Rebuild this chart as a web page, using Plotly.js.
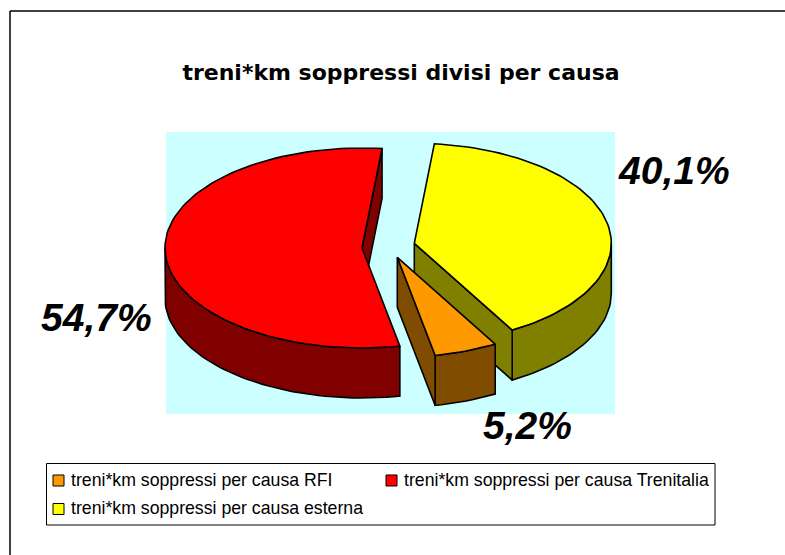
<!DOCTYPE html>
<html>
<head>
<meta charset="utf-8">
<script src="https://cdn.plot.ly/plotly-3.0.1.min.js"></script>
<style>html,body{margin:0;padding:0;background:#fff}#chart{width:785px;height:555px}</style>
</head>
<body>
<div id="chart"></div>
<script>
const chartTitle = "treni*km soppressi divisi per causa";
const categories = ["treni*km soppressi per causa RFI", "treni*km soppressi per causa Trenitalia", "treni*km soppressi per causa esterna"];
const shares = [5.2, 54.7, 40.1];
const shareLabels = ["5,2%", "54,7%", "40,1%"];
const topColors = ["#FF9900", "#FF0000", "#FFFF00"];
const wallColors = ["#804D00", "#800000", "#808000"];

// pie geometry (screen-like axis units)
const firstAngle = 150.2, rx = 197, ry = 100, depth = 50;
const centers = [[397.3, 257.3], [362, 248], [414.3, 243.3]];
const labelPos = [[527, 425], [96, 317], [674, 170]];
const drawOrder = [1, 2, 0];
const LW = 1.6;

let a = firstAngle;
const spans = shares.map(s => { let st = a; a += s * 3.6; let en = a; if (st >= 360) { st -= 360; en -= 360; } return [st, en]; });

function pt(c, deg, dz) {
  const t = deg * Math.PI / 180;
  return [c[0] + rx * Math.sin(t), c[1] - ry * Math.cos(t) + (dz || 0)];
}
function arc(c, a0, a1, dz) {
  const n = Math.max(2, Math.ceil(Math.abs(a1 - a0) / 2)), out = [];
  for (let i = 0; i <= n; i++) out.push(pt(c, a0 + (a1 - a0) * i / n, dz));
  return out;
}
function poly(points, fill, name) {
  const p = points.concat([points[0]]);
  return { type: "scatter", mode: "lines", x: p.map(q => q[0]), y: p.map(q => q[1]), fill: "toself",
    fillcolor: fill, line: { color: "#000", width: LW }, showlegend: false, name: name, hoverinfo: "name" };
}
const traces = [];
drawOrder.forEach(i => {
  const c = centers[i], s = spans[i], name = categories[i];
  // outer wall: only the part that faces the viewer (90°..270°)
  const w0 = Math.max(s[0], 90), w1 = Math.min(s[1], 270);
  if (w1 > w0) traces.push(poly(arc(c, w0, w1, 0).concat(arc(c, w1, w0, depth)), wallColors[i], name));
  // cut wall at the end of each slice
  const e = pt(c, s[1]);
  traces.push(poly([c, [c[0], c[1] + depth], [e[0], e[1] + depth], e], wallColors[i], name));
  traces.push(poly([c].concat(arc(c, s[0], s[1], 0)), topColors[i], name));
});

const shapes = [
  { type: "rect", layer: "below", x0: 166, x1: 615, y0: 132, y1: 414, fillcolor: "#CCFFFF", line: { width: 0 } },
  { type: "line", x0: 10, x1: 785, y0: 11, y1: 11, line: { color: "#000", width: 1.5 } },
  { type: "line", x0: 10, x1: 10, y0: 11, y1: 555, line: { color: "#000", width: 1.5 } },
  { type: "rect", x0: 46.5, x1: 715, y0: 463.5, y1: 525, fillcolor: "rgba(0,0,0,0)", line: { color: "#000", width: 1 } }
];
const legendAt = [[53, 480.5], [386, 480.5], [53, 509]];
const annotations = [];
categories.forEach((name, i) => {
  const p = legendAt[i];
  shapes.push({ type: "rect", x0: p[0], x1: p[0] + 11, y0: p[1] - 5.5, y1: p[1] + 5.5, fillcolor: topColors[i], line: { color: "#000", width: 1 } });
  annotations.push({ x: p[0] + 16, y: p[1] - 1, xref: "x", yref: "y", text: name, showarrow: false, xanchor: "left", yanchor: "middle",
    font: { family: "Liberation Sans, Arial, sans-serif", size: 17.7, color: "#000" } });
  const l = labelPos[i];
  annotations.push({ x: l[0], y: l[1], xref: "x", yref: "y", text: "<b><i>" + shareLabels[i] + "</i></b>", showarrow: false, xanchor: "center", yanchor: "middle",
    font: { family: "Liberation Sans, Arial, sans-serif", size: 39, color: "#000" } });
});

const layout = {
  width: 785, height: 555, margin: { l: 0, r: 0, t: 0, b: 0 }, paper_bgcolor: "#fff", plot_bgcolor: "#fff", showlegend: false,
  title: { text: "<b>" + chartTitle + "</b>", x: 401 / 785, y: 1 - 72 / 555, xref: "paper", yref: "paper", xanchor: "center", yanchor: "middle",
    font: { family: "DejaVu Sans, sans-serif", size: 22, color: "#000" } },
  xaxis: { range: [0, 785], visible: false, fixedrange: true },
  yaxis: { range: [555, 0], visible: false, fixedrange: true },
  shapes: shapes, annotations: annotations
};
Plotly.newPlot("chart", traces, layout, { displayModeBar: false, staticPlot: true });
</script>
</body>
</html>
